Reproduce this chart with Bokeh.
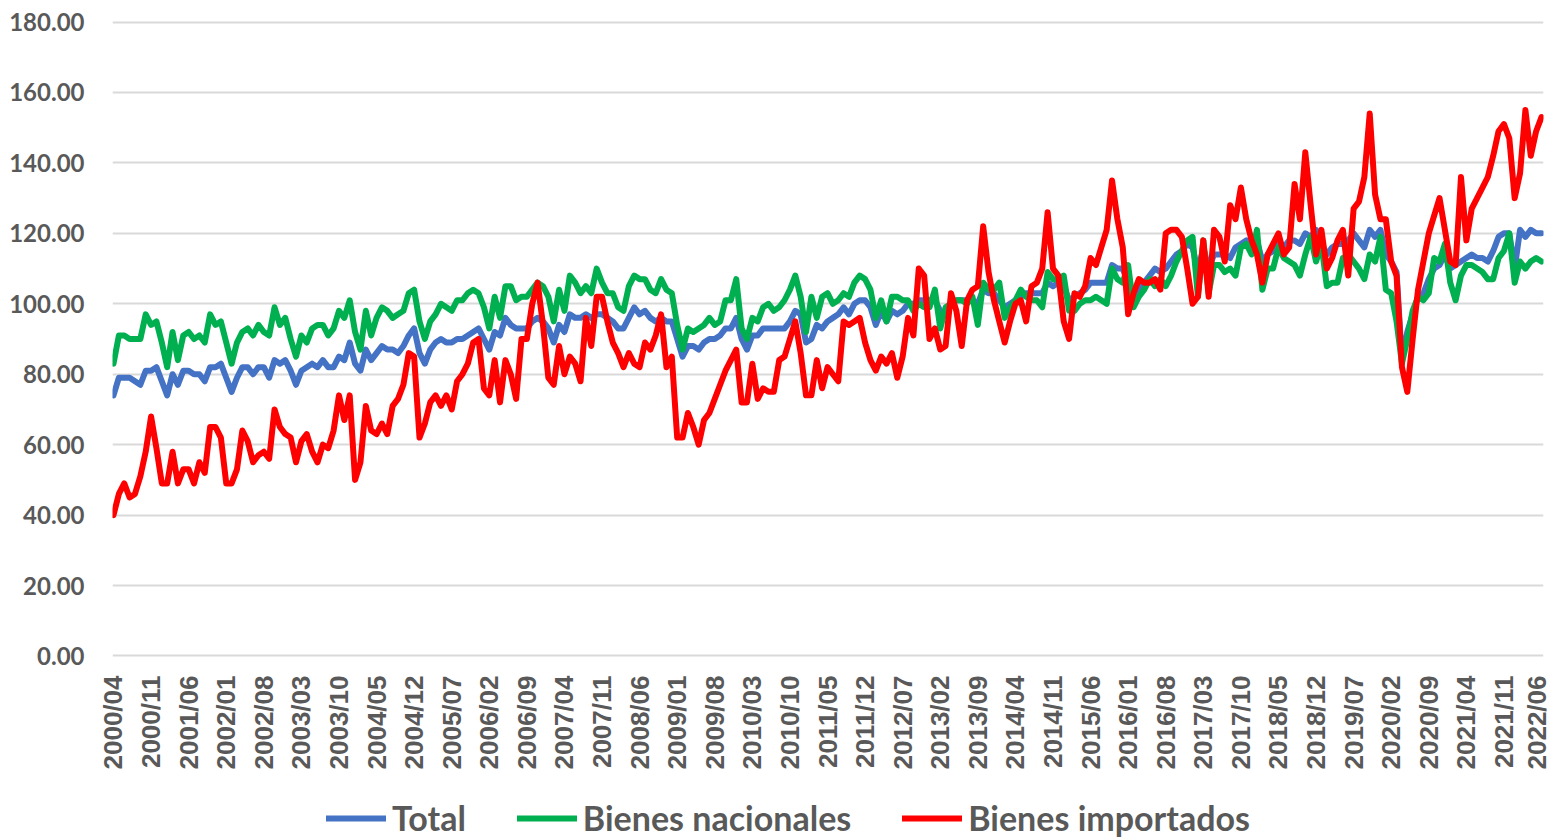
import numpy as np
from bokeh.plotting import figure
from bokeh.layouts import column
from bokeh.models import FixedTicker, NumeralTickFormatter, Legend, LegendItem
from bokeh.embed import file_html
from bokeh.resources import INLINE

# ---------------- data ----------------
tick_labels = ["2000/04", "2000/11", "2001/06", "2002/01", "2002/08", "2003/03", "2003/10",
               "2004/05", "2004/12", "2005/07", "2006/02", "2006/09", "2007/04", "2007/11",
               "2008/06", "2009/01", "2009/08", "2010/03", "2010/10", "2011/05", "2011/12",
               "2012/07", "2013/02", "2013/09", "2014/04", "2014/11", "2015/06", "2016/01",
               "2016/08", "2017/03", "2017/10", "2018/05", "2018/12", "2019/07", "2020/02",
               "2020/09", "2021/04", "2021/11", "2022/06"]

total = [74, 79, 79, 79, 78, 77, 81, 81, 82, 78,
         74, 80, 77, 81, 81, 80, 80, 78, 82, 82,
         83, 79, 75, 79, 82, 82, 80, 82, 82, 79,
         84, 83, 84, 81, 77, 81, 82, 83, 82, 84,
         82, 82, 85, 84, 89, 83, 81, 87, 84, 86,
         88, 87, 87, 86, 88, 91, 93, 86, 83, 87,
         89, 90, 89, 89, 90, 90, 91, 92, 93, 90,
         87, 92, 91, 96, 94, 93, 93, 93, 95, 96,
         95, 93, 89, 94, 92, 97, 96, 96, 97, 96,
         97, 97, 96, 95, 93, 93, 96, 99, 97, 98,
         96, 95, 96, 95, 95, 90, 85, 88, 88, 87,
         89, 90, 90, 91, 93, 93, 96, 90, 87, 91,
         91, 93, 93, 93, 93, 93, 95, 98, 97, 89,
         90, 94, 93, 95, 96, 97, 99, 97, 100, 101,
         101, 99, 94, 98, 95, 98, 97, 98, 100, 100,
         101, 101, 101, 101, 98, 97, 100, 101, 101, 101,
         101, 100, 104, 103, 103, 101, 99, 100, 101, 102,
         103, 103, 103, 103, 106, 105, 106, 105, 101, 102,
         103, 104, 106, 106, 106, 106, 111, 110, 110, 106,
         101, 104, 106, 108, 110, 109, 110, 112, 114, 115,
         117, 116, 109, 116, 110, 114, 114, 114, 113, 116,
         117, 118, 116, 118, 112, 114, 115, 118, 116, 118,
         118, 117, 120, 119, 121, 117, 114, 116, 117, 117,
         118, 120, 118, 116, 121, 119, 121, 114, 112, 109,
         84, 92, 97, 102, 103, 107, 110, 111, 114, 110,
         111, 112, 113, 114, 113, 113, 112, 115, 119, 120,
         120, 110, 121, 119, 121, 120, 120]

nacionales = [83, 91, 91, 90, 90, 90, 97, 94, 95, 89,
              82, 92, 84, 91, 92, 90, 91, 89, 97, 94,
              95, 89, 83, 89, 92, 93, 91, 94, 92, 91,
              99, 94, 96, 90, 85, 91, 89, 93, 94, 94,
              91, 93, 98, 96, 101, 92, 87, 98, 91, 96,
              99, 98, 96, 97, 98, 103, 104, 95, 90, 95,
              97, 100, 99, 98, 101, 101, 103, 104, 103, 99,
              93, 102, 96, 105, 105, 101, 102, 102, 104, 106,
              105, 102, 95, 104, 98, 108, 106, 103, 105, 103,
              110, 106, 103, 103, 99, 98, 105, 108, 107, 107,
              104, 103, 107, 104, 103, 94, 87, 93, 92, 93,
              94, 96, 94, 95, 101, 101, 107, 93, 90, 96,
              95, 99, 100, 98, 99, 101, 104, 108, 102, 92,
              102, 96, 102, 103, 100, 101, 103, 102, 106, 108,
              107, 104, 96, 101, 95, 102, 102, 101, 101, 98,
              100, 99, 99, 104, 93, 99, 100, 101, 101, 100,
              102, 94, 106, 104, 104, 106, 96, 99, 101, 104,
              102, 101, 101, 99, 109, 107, 107, 108, 98, 98,
              100, 101, 101, 102, 101, 100, 110, 107, 106, 111,
              99, 102, 104, 107, 105, 107, 105, 108, 112, 115,
              118, 119, 102, 118, 103, 111, 111, 109, 110, 108,
              116, 117, 114, 121, 104, 110, 110, 116, 113, 112,
              111, 108, 114, 119, 112, 117, 105, 106, 106, 113,
              114, 112, 110, 107, 114, 112, 119, 104, 103, 95,
              83, 90, 98, 102, 101, 103, 113, 112, 117, 106,
              101, 108, 111, 111, 110, 109, 107, 107, 113, 115,
              120, 106, 112, 110, 112, 113, 112]

importados = [40, 46, 49, 45, 46, 51, 58, 68, 59, 49,
              49, 58, 49, 53, 53, 49, 55, 52, 65, 65,
              62, 49, 49, 53, 64, 61, 55, 57, 58, 56,
              70, 65, 63, 62, 55, 61, 63, 58, 55, 60,
              59, 64, 74, 67, 74, 50, 55, 71, 64, 63,
              66, 63, 71, 73, 77, 86, 85, 62, 66, 72,
              74, 71, 74, 70, 78, 80, 83, 89, 90, 76,
              74, 84, 72, 84, 80, 73, 90, 90, 100, 106,
              94, 79, 77, 88, 80, 85, 83, 78, 96, 88,
              102, 102, 95, 89, 86, 82, 86, 83, 82, 89,
              87, 91, 97, 82, 85, 62, 62, 69, 65, 60,
              67, 69, 73, 77, 81, 84, 87, 72, 72, 83,
              73, 76, 75, 75, 84, 85, 90, 95, 86, 74,
              74, 84, 76, 82, 80, 78, 95, 94, 95, 96,
              89, 84, 81, 85, 83, 86, 79, 85, 96, 91,
              110, 108, 90, 93, 87, 88, 103, 98, 88, 101,
              104, 105, 122, 109, 101, 95, 89, 95, 100, 101,
              95, 105, 106, 110, 126, 110, 108, 95, 90, 103,
              102, 105, 113, 111, 116, 121, 135, 124, 116, 97,
              103, 107, 106, 106, 107, 104, 120, 121, 121, 119,
              110, 100, 102, 118, 102, 121, 119, 112, 128, 124,
              133, 124, 118, 114, 106, 114, 117, 120, 114, 116,
              134, 124, 143, 128, 114, 121, 110, 113, 118, 121,
              108, 127, 129, 136, 154, 131, 124, 124, 112, 108,
              82, 75, 90, 104, 112, 120, 125, 130, 121, 112,
              111, 136, 118, 127, 130, 133, 136, 142, 149, 151,
              147, 130, 137, 155, 142, 149, 153]

y_ticks = [0, 20, 40, 60, 80, 100, 120, 140, 160, 180]
series_names = ["Total", "Bienes nacionales", "Bienes importados"]
series_colors = ["#4472C4", "#00B050", "#FF0000"]
series_values = [total, nacionales, importados]

# ---------------- chart ----------------
n = len(total)
months = list(range(n))
tick_step = 7
tick_positions = [i * tick_step for i in range(len(tick_labels))]

W = 1551
p = figure(width=W, height=795, output_backend="svg", toolbar_location=None,
           x_range=(-0.186, 266.37), y_range=(-1, 181),
           min_border_left=112, min_border_right=8, min_border_top=18, min_border_bottom=136)

p.outline_line_color = None
p.background_fill_color = "white"
p.border_fill_color = "white"

for vals, col in zip(series_values, series_colors):
    p.line(months, vals, line_color=col, line_width=6, line_join="round", line_cap="round")

# x axis
p.xaxis.ticker = FixedTicker(ticks=tick_positions)
p.xaxis.major_label_overrides = {pos: lab for pos, lab in zip(tick_positions, tick_labels)}
p.xaxis.major_label_orientation = np.pi / 2
p.xaxis.major_label_text_font = "Liberation Sans"
p.xaxis.major_label_text_font_size = "26px"
p.xaxis.major_label_text_font_style = "bold"
p.xaxis.major_label_text_color = "#595959"
p.xaxis.major_label_standoff = 10
p.xaxis.major_tick_line_color = None
p.xaxis.minor_tick_line_color = None
p.xaxis.axis_line_color = None

# y axis
p.yaxis.ticker = FixedTicker(ticks=y_ticks)
p.yaxis.formatter = NumeralTickFormatter(format="0.00")
p.yaxis.major_label_text_font = "Lato"
p.yaxis.major_label_text_font_size = "24px"
p.yaxis.major_label_text_font_style = "bold"
p.yaxis.major_label_text_color = "#595959"
p.yaxis.major_label_standoff = 22
p.yaxis.major_tick_line_color = None
p.yaxis.minor_tick_line_color = None
p.yaxis.axis_line_color = None

p.xgrid.visible = False
p.ygrid.grid_line_color = "#D9D9D9"
p.ygrid.grid_line_width = 2

# ---------------- legend strip ----------------
leg = figure(width=W, height=44, output_backend="svg", toolbar_location=None,
             x_axis_location=None, y_axis_location=None,
             x_range=(-0.186, 266.37), y_range=(1000, 1001), min_border=0)
leg.grid.visible = False
leg.outline_line_color = None
leg.background_fill_color = "white"
leg.border_fill_color = "white"
leg_renderers = [leg.line(months, vals, line_color=c, line_width=6, line_cap="round")
                 for vals, c in zip(series_values, series_colors)]
legend = Legend(items=[LegendItem(label=nm, renderers=[r]) for nm, r in zip(series_names, leg_renderers)],
                orientation="horizontal", location=(214, 1),
                label_text_font="Lato", label_text_font_size="34px", label_text_font_style="bold",
                label_text_color="#595959", glyph_width=60, glyph_height=20,
                label_standoff=6, spacing=51, padding=0, margin=0,
                border_line_color=None, background_fill_alpha=0)
leg.add_layout(legend, "center")

open("out.html", "w").write(file_html(column(p, leg), INLINE))
